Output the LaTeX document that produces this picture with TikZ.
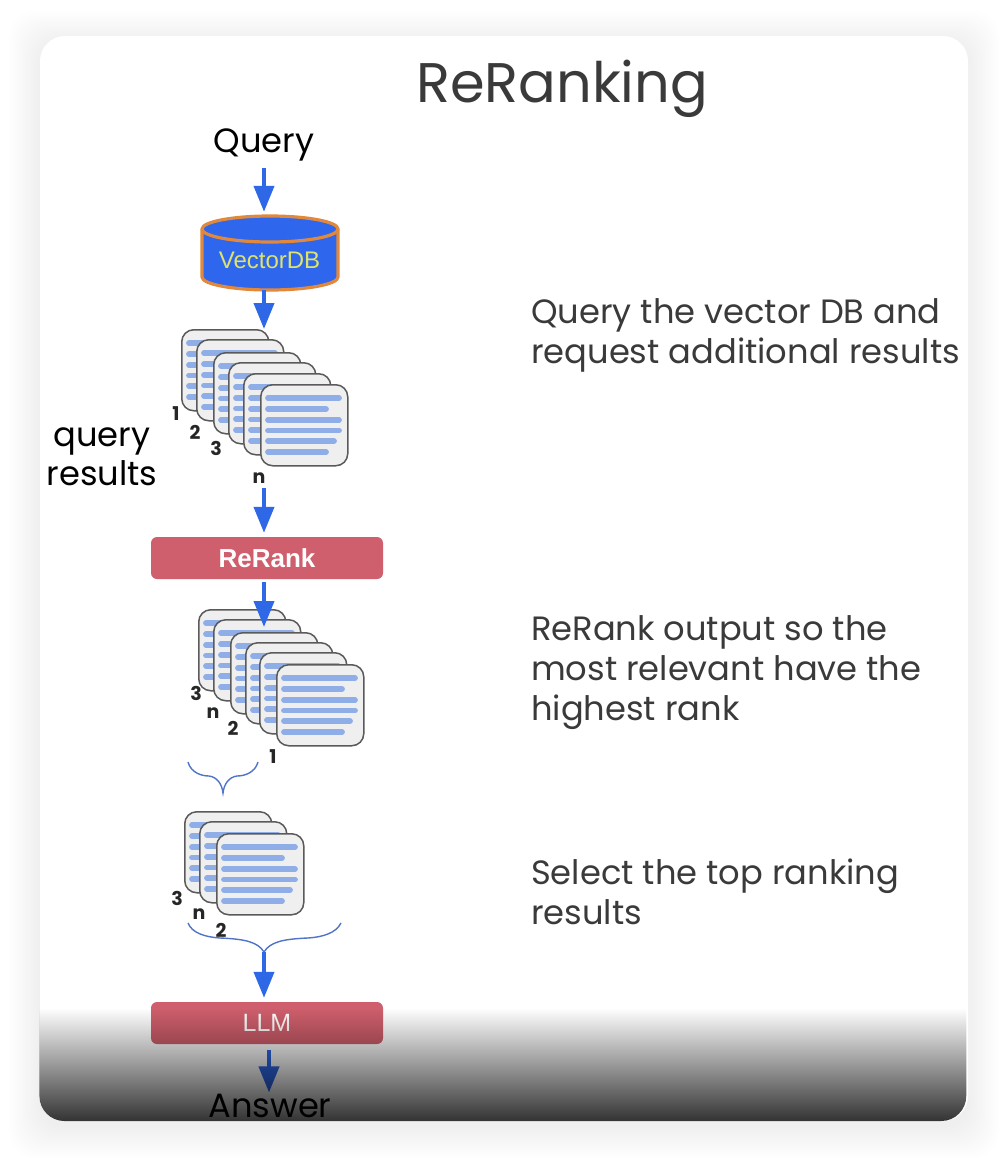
\documentclass[tikz,border=0pt]{standalone}
\usepackage{fontspec}
\setmainfont{Poppins}
\newfontfamily\arialfont{Liberation Sans}
\usetikzlibrary{arrows.meta,fadings,calc}
\definecolor{flowblue}{HTML}{2F68E6}
\definecolor{dbblue}{HTML}{2F66EE}
\definecolor{dborange}{HTML}{E0883C}
\definecolor{dbtext}{HTML}{DDE36A}
\definecolor{boxred}{HTML}{CF5F6C}
\definecolor{bracecol}{HTML}{4F74C9}
\definecolor{cardfill}{HTML}{EFEFEF}
\definecolor{cardedge}{HTML}{5A5A5A}
\definecolor{cardline}{HTML}{8FADE6}
\definecolor{inktext}{HTML}{3A3A3A}
\tikzfading[name=bottomdark, top color=transparent!100, bottom color=transparent!20]
\tikzset{
  x=1pt,y=-1pt,
  flow/.style={draw=flowblue,line width=4pt,-{Triangle[width=20pt,length=26pt]}},
  bracket/.style={draw=bracecol,line width=1.4pt},
  cardbox/.style={draw=cardedge,fill=cardfill,line width=1.5pt,rounded corners=12pt,minimum width=87pt,minimum height=81pt,inner sep=0pt,anchor=north west},
  cardrow/.style={draw=cardline,line width=5.8pt,line cap=round},
  redbox/.style={fill=boxred,rounded corners=6pt,minimum width=232pt,minimum height=42pt,inner sep=0pt,font=\arialfont\fontsize{25}{30}\selectfont,text=white},
  title/.style={font=\fontsize{55.8}{66}\selectfont,text=inktext,inner sep=0pt,anchor=base west},
  note/.style={font=\fontsize{33.7}{40}\selectfont,text=inktext,inner sep=0pt,anchor=base west,align=left},
  flowlabel/.style={font=\fontsize{33.7}{40}\selectfont,text=black,inner sep=0pt,anchor=base},
  rank/.style={font=\bfseries\fontsize{19}{22}\selectfont,text=black!85,inner sep=0pt},
}
\newcommand{\doccard}[3]{%
  \node[cardbox] (#1) at (#2,#3) {};
  \draw[cardrow] ($(#1.north west)+(8,14)$) -- ++(71,0);
  \draw[cardrow] ($(#1.north west)+(8,25)$) -- ++(58,0);
  \draw[cardrow] ($(#1.north west)+(8,36)$) -- ++(71,0);
  \draw[cardrow] ($(#1.north west)+(8,46.5)$) -- ++(71,0);
  \draw[cardrow] ($(#1.north west)+(8,57)$) -- ++(66,0);
  \draw[cardrow] ($(#1.north west)+(8,68)$) -- ++(58,0);
}
\begin{document}
\begin{tikzpicture}
\useasboundingbox (0,0) rectangle (1004,1160);
\fill[white] (0,0) rectangle (1004,1160);
% soft card shadow
\foreach \s in {1,3,...,31}{
  \fill[black,opacity=0.004,rounded corners=26pt] (40-\s,36-\s+6) rectangle (968+\s,1121+\s+6);
}
\fill[white,rounded corners=25pt] (40,36) rectangle (968,1121);

\node[title] (heading) at (416,102) {ReRanking};

\node[note] (note1) at (531,363) {Query the vector DB and\\request additional results};
\node[note] (note2) at (531,720) {ReRank output so the\\most relevant have the\\highest rank};
\node[note] (note3) at (531,924) {Select the top ranking\\results};

\node[flowlabel] (query) at (264,152) {Query};
\node[flowlabel] (qr1) at (102,446) {query};
\node[flowlabel] (qr2) at (102,485) {results};

% vector database
\path[fill=dbblue,draw=dborange,line width=3.2pt,line join=round]
  (202,229) -- (202,277) arc[start angle=180,end angle=0,x radius=68,y radius=13] -- (338,229)
  arc[start angle=0,end angle=-180,x radius=68,y radius=13] -- cycle;
\draw[dborange,line width=3.2pt] (202,229) arc[start angle=180,end angle=0,x radius=68,y radius=13];
\node[inner sep=0pt,minimum width=136pt,minimum height=74pt] (db) at (270,253) {};
\node[inner sep=0pt,font=\arialfont\fontsize{24}{28}\selectfont,text=dbtext] (dblabel) at (269.5,260) {VectorDB};

% first stack
\doccard{a1}{181}{329}
\doccard{a2}{196}{339}
\doccard{a3}{213}{352}
\doccard{a4}{228}{362}
\doccard{a5}{243}{373}
\doccard{a6}{260}{384}
\node[rank] (ra1) at (176,414) {1};
\node[rank] (ra2) at (195,432) {2};
\node[rank] (ra3) at (216,448) {3};
\node[rank] (ran) at (259,478) {n};

\node[redbox,font=\arialfont\bfseries\fontsize{26}{30}\selectfont] (rerank) at (267,558) {ReRank};

% second stack
\doccard{b1}{198}{609}
\doccard{b2}{213}{619}
\doccard{b3}{230}{632}
\doccard{b4}{245}{642}
\doccard{b5}{259}{652}
\doccard{b6}{276}{664}
\node[rank] (rb3) at (196,693) {3};
\node[rank] (rbn) at (213,713) {n};
\node[rank] (rb2) at (233,728) {2};
\node[rank] (rb1) at (273,757) {1};

\coordinate (bracetipA) at (223,793);
\draw[bracket] (188,762) .. controls (191,773) and (202,776) .. (209,776) .. controls (217,777) and (222,784) .. (bracetipA)
  .. controls (224,784) and (229,777) .. (237,776) .. controls (244,776) and (255,773) .. (258,762);

% third stack
\doccard{c1}{184}{811}
\doccard{c2}{199}{821}
\doccard{c3}{216}{833}
\node[rank] (rc3) at (177,898) {3};
\node[rank] (rcn) at (199,914) {n};
\node[rank] (rc2) at (221,930) {2};

\coordinate (bracetipB) at (264,952);
\draw[bracket] (188,923) .. controls (192,933) and (205,937) .. (220,938) .. controls (245,939) and (258,942) .. (bracetipB)
  .. controls (270,942) and (283,939) .. (308,938) .. controls (323,937) and (336,933) .. (341,923);

\node[redbox] (llm) at (267,1023) {LLM};
\node[flowlabel] (answer) at (270,1117) {Answer};

% connectors
\coordinate (fromquery) at (264,168);
\coordinate (fromdb) at (264,290);
\coordinate (fromn) at (264,488);
\coordinate (fromrerank) at (264,582);
\coordinate (fromllm) at (269,1050);
\draw[flow,shorten >=4pt] (fromquery) -- (fromquery |- db.north);
\draw[flow] (fromdb) -- (fromdb |- a1.north);
\draw[flow,shorten >=4pt] (fromn) -- (fromn |- rerank.north);
\draw[flow,shorten >=-8pt] (fromrerank) -- (fromrerank |- b2.north);
\draw[flow,shorten >=4pt] (bracetipB) -- (bracetipB |- llm.north);
\draw[flow,shorten >=1pt] (fromllm) -- (fromllm |- answer.north);

% darkening at the foot of the card
\path[fill=black,path fading=bottomdark] (40,1008) -- (968,1008) [rounded corners=25pt] -- (968,1121) -- (40,1121) [sharp corners] -- cycle;
\end{tikzpicture}
\end{document}
